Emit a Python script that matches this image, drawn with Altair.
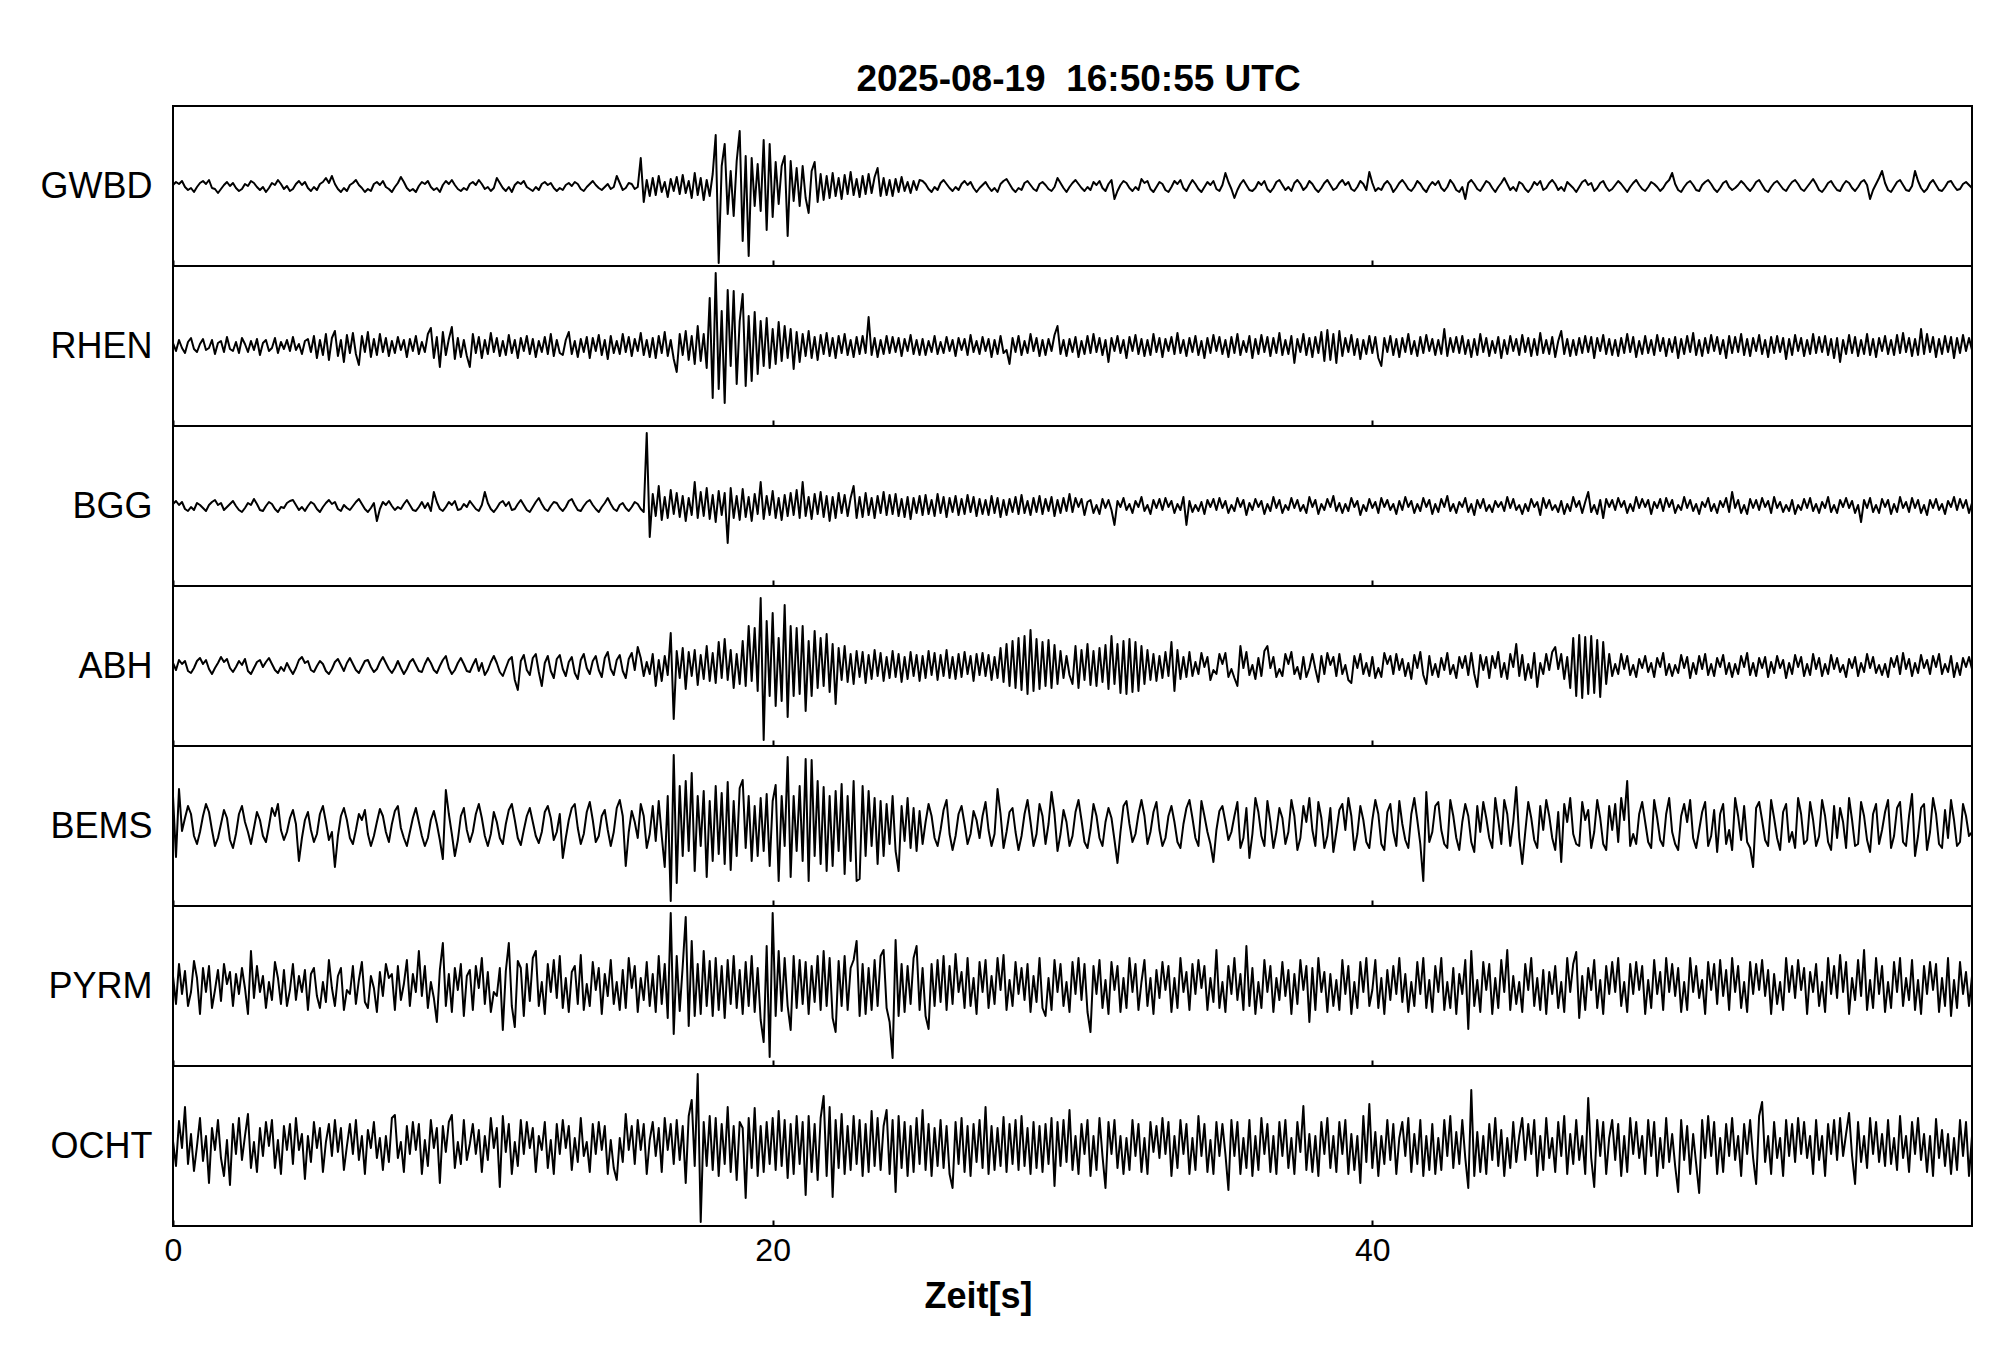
import altair as alt
import pandas as pd

STATIONS = ["GWBD", "RHEN", "BGG", "ABH", "BEMS", "PYRM", "OCHT"]
DURATION = 60.0
X_TICKS = [0, 20, 40]
TITLE = "2025-08-19\u00a0 16:50:55 UTC"
X_TITLE = "Zeit[s]"

# amplitudes in pixels of a 160 px high panel (±80), one row = 1 s at 0.1 s steps
GWBD = [
    1,4,2,5,-1,-4,-2,-6,-1,3,
    5,2,6,-2,-3,-7,-3,1,4,0,
    3,-2,-5,-3,2,0,5,3,-1,-4,
    -1,-6,-2,3,1,6,2,-3,0,-5,
    -3,2,5,1,4,-2,-5,-1,-4,2,
    4,8,3,10,2,-3,-6,-2,-5,1,
    3,6,1,-2,-6,-3,-5,2,4,1,
    5,-1,-3,-6,-1,3,9,4,-2,-5,
    -3,-6,0,4,2,5,-1,-4,-2,-6,
    1,5,2,6,1,-3,-5,-2,-4,2,
    4,1,6,2,-3,-1,-5,-2,8,3,
    -2,-5,-1,-6,1,4,2,5,-1,-3,
    -5,-1,-4,2,4,1,3,-2,-5,-2,
    -4,1,3,0,4,2,-3,-5,-1,2,
    5,1,-2,-4,-1,2,-3,-1,10,3,
    -4,-2,3,2,-3,-1,28,-16,6,-10,
    8,-9,10,-6,4,-11,7,-5,9,-8,
    11,-7,5,-12,13,-9,8,-14,6,-10,
    12,51,-77,20,42,-28,15,-30,25,55,
    -55,30,-70,28,-20,22,-25,46,-44,42,
    -31,24,-18,20,30,-50,25,-15,18,-20,
    20,-12,-27,15,24,-16,12,-14,10,-12,
    13,-10,8,-13,11,-8,14,-9,7,-11,
    10,-8,12,-7,9,18,-10,8,-9,6,
    -10,7,-6,9,-5,4,-7,5,-4,6,
    5,2,-3,-6,-1,-4,3,6,2,-2,
    -5,-1,-4,2,5,1,4,-2,-6,-2,
    1,4,-1,-5,-2,-6,2,5,7,2,
    -3,-6,-2,-4,3,5,1,-3,-5,2,
    4,1,-3,-5,-1,8,3,-2,-6,-1,
    3,6,2,-2,-5,-1,-4,4,1,5,
    -2,-5,2,6,-13,-5,1,5,3,-2,
    -5,-1,-4,7,3,5,-3,-6,-1,4,
    2,-4,-6,-1,5,2,6,-2,-5,1,
    6,2,-3,-6,-1,4,1,5,-3,-5,
    1,13,4,-3,-12,-4,2,6,1,-4,
    -5,-2,4,1,5,-3,-6,-2,4,6,
    1,-4,-1,-5,3,6,2,-4,-1,5,
    2,-3,-6,-2,3,6,1,-4,-2,3,
    6,1,4,-3,-5,-1,5,2,-4,14,
    3,-5,-2,-4,2,5,1,-6,-2,3,
    6,2,-3,-5,-1,5,2,-3,-6,0,
    4,1,5,-2,-5,-1,6,2,-4,-6,
    -1,-13,3,6,2,-3,-5,0,5,3,
    -2,-6,-1,3,8,2,-4,-1,-5,4,
    2,-3,-6,-2,4,1,5,-4,-2,3,
    6,2,-4,-1,-5,4,1,-2,-6,-1,
    4,6,1,3,-5,-2,3,5,-1,-5,
    -3,1,5,2,-2,-6,-1,3,6,1,
    -3,-5,-1,4,2,-1,-5,-2,3,6,
    13,2,-4,-6,-1,3,5,1,-4,-5,
    1,4,6,2,-3,-6,-2,3,5,-1,
    -4,-2,1,5,2,-2,-5,-1,4,6,
    1,-4,-6,-1,3,5,1,-3,-5,0,
    4,6,2,-3,-5,-1,3,7,2,-4,
    -6,-2,3,5,0,-4,-5,1,5,3,
    -2,-5,-1,4,6,1,-13,-4,2,8,
    15,3,-4,-6,-1,4,6,1,-4,-5,
    0,15,5,-2,-6,-3,3,6,1,-4,
    -5,-1,4,5,0,-4,-3,2,4,1,
    -2,
]

RHEN = [
    3,-5,6,-2,-7,4,8,-3,-6,2,
    7,-4,-2,6,-8,3,5,-6,9,-3,
    -5,4,-7,8,2,-6,5,-4,7,-9,
    3,6,-5,-2,8,-7,4,-3,6,-5,
    9,-4,2,-8,5,7,-6,10,-12,6,
    -9,12,-14,8,15,-10,6,-16,11,-7,
    13,-8,-19,10,-6,14,-11,7,-9,12,
    -6,8,-10,5,-7,9,-4,6,-11,7,
    -5,10,-8,4,-6,12,18,-12,9,-21,
    14,-9,7,19,-13,8,-11,6,-10,-21,
    12,-7,9,-12,6,-8,13,-6,8,-10,
    5,-9,11,-7,6,-12,8,-5,10,-8,
    7,-11,5,-6,9,-8,12,-10,6,-7,
    -9,6,14,-8,5,-11,7,-6,9,-12,
    8,-5,11,-9,6,-13,10,-7,5,-8,
    12,-6,9,-10,7,-5,13,-9,6,-11,
    8,-12,10,-7,14,-10,6,-13,-26,12,
    -9,15,-14,10,-18,20,-15,12,-22,48,
    -52,73,-43,35,-57,56,-20,55,-38,25,
    52,-40,30,-35,34,-28,25,-20,28,-22,
    17,-18,24,-15,20,-12,17,-23,14,-16,
    12,-10,15,-12,9,-14,11,-8,13,-10,
    8,-12,10,-7,12,-9,6,-11,9,-8,
    10,-7,29,-9,8,-11,6,-8,10,-7,
    9,-6,8,-10,7,-5,11,-8,6,-9,
    7,-9,5,-6,10,-8,4,-7,9,-5,
    6,-10,8,-4,7,-9,11,-6,5,-8,
    9,-5,7,-11,6,-8,10,-7,-4,-18,
    8,-6,10,-9,5,-7,12,-5,8,-10,
    6,-9,7,-5,11,20,-8,6,-10,7,
    -6,9,-11,5,-8,10,-7,12,-6,8,
    -9,6,-16,8,-5,10,-7,6,-12,9,
    -5,11,-8,7,-10,6,-9,12,-6,8,
    -11,7,-5,9,-8,13,-7,6,-10,8,
    -6,10,-9,5,-12,8,-7,11,-5,9,
    -8,6,-11,9,-7,12,-9,5,-6,10,
    -12,7,-8,11,-6,9,-10,8,-7,13,
    -9,6,-8,10,-17,7,-6,12,-9,8,
    -11,9,-7,14,-15,16,-14,12,-17,15,
    -10,8,-6,11,-9,7,-13,6,-8,10,
    -7,9,-12,-20,8,-6,10,-9,7,-11,
    8,-6,12,-8,5,-10,9,-7,11,-5,
    7,-9,6,-8,17,-10,8,-6,9,-7,
    10,-8,6,-11,7,-9,12,-6,8,-10,
    5,-7,9,-12,6,-8,10,-5,7,-9,
    11,-6,8,-10,7,-9,13,-7,6,-8,
    9,-11,5,15,-8,7,-10,6,-9,8,
    -7,10,-6,9,-12,8,-5,11,-8,7,
    -9,6,-10,8,-7,12,-6,9,-11,5,
    -8,10,-7,6,-9,11,-5,8,-10,7,
    -6,9,-12,7,-8,10,-6,13,-9,6,
    -10,8,-7,11,-5,9,-8,6,-12,10,
    -7,9,-6,12,-9,7,-10,8,-5,11,
    -8,6,-11,9,-7,10,-6,8,-13,7,
    -9,11,-5,8,-10,6,-8,12,-7,9,
    -6,10,-9,7,-12,8,-16,6,-8,11,
    -7,9,-10,6,-8,12,-9,7,-11,8,
    -5,10,-8,6,-9,11,-7,13,-6,8,
    -10,7,-9,17,-8,12,-6,9,-11,7,
    -8,10,-6,9,-12,8,-7,11,-5,8,
    -4,
]

BGG = [
    2,5,1,4,-3,-5,-1,-4,3,1,
    -2,-5,1,4,6,1,3,-4,-1,2,
    5,0,-4,-6,-2,3,1,7,2,-4,
    -5,0,4,2,-3,-6,-1,-2,3,5,
    6,1,-4,-1,-5,0,4,2,-3,-6,
    -1,3,6,2,4,-3,-5,1,-2,-4,
    0,4,7,2,-3,-6,-2,3,-15,-3,
    4,1,5,0,-4,-1,-3,2,6,1,
    -4,-5,-1,4,-2,3,-5,14,4,-3,
    -5,-1,4,1,5,-4,-3,2,-1,5,
    1,-3,-5,1,14,3,-3,-6,-2,3,
    5,0,4,-4,-3,2,6,1,-4,-6,
    -1,4,8,2,-3,-5,0,4,3,-2,
    -5,-1,5,7,1,-4,-5,0,4,6,
    1,-3,-6,-1,3,8,2,-3,-5,1,
    3,-2,-5,-1,4,2,-3,-6,73,-31,
    12,-10,20,-14,9,-12,16,-8,13,-11,
    10,-15,8,-9,24,-12,14,-10,18,-13,
    11,-16,15,-9,13,-37,18,-12,10,-14,
    17,-11,9,-15,12,-8,24,-13,10,-9,
    15,-12,8,-14,11,-10,13,-9,16,-12,
    24,-10,9,-13,12,-8,14,-11,10,-15,
    9,-12,13,-7,11,-10,8,20,-12,9,
    -11,13,-9,8,-12,10,-7,14,-9,11,
    -8,12,-10,7,-11,9,-13,8,-7,10,
    -9,11,-8,6,-10,12,-7,9,-11,8,
    -6,10,-9,7,-8,11,-6,9,-10,7,
    -8,6,-9,10,-7,8,-11,6,-9,7,
    -6,9,-8,11,-7,5,-9,8,-6,10,
    -8,7,-5,9,-10,6,-7,8,-5,12,
    -6,8,-1,7,-9,4,6,-7,1,-8,
    7,-2,6,-4,-19,5,-1,8,-4,2,
    -7,5,-1,9,-5,1,-8,6,-2,7,
    -4,8,-1,5,-7,2,-4,9,-19,5,
    -6,1,-5,4,-8,6,-1,7,-4,8,
    -2,5,-7,1,-5,8,-1,6,-9,3,
    -4,7,-1,5,-8,2,-5,9,-2,6,
    -7,1,-4,8,-2,6,-5,1,-7,9,
    -1,6,-8,2,-4,7,-1,10,-5,3,
    -7,2,-5,8,-1,5,-9,1,-5,7,
    -2,4,-7,8,-1,6,-4,2,-8,5,
    -4,9,-1,5,-7,2,-5,8,-1,6,
    -8,2,-6,7,-1,10,-5,2,-7,4,
    -1,8,-6,2,-9,6,-2,7,-5,1,
    -6,5,-1,4,-5,9,-2,7,-4,1,
    -8,2,-5,7,-1,4,-9,8,-2,6,
    -4,1,-6,5,-8,2,-5,9,-1,5,
    -7,4,14,-6,1,-8,6,-12,7,-1,
    6,-4,8,-1,5,-7,2,-5,9,-2,
    7,-1,6,-8,4,-2,7,-5,8,-1,
    6,-7,1,-4,9,-2,6,-5,2,-8,
    4,-1,8,-5,2,-7,5,-1,8,-6,
    14,-2,6,-7,1,-8,7,-2,6,-4,
    8,-1,5,-7,9,-2,4,-6,1,-5,
    6,-8,1,-4,7,-2,8,-5,2,-7,
    4,-2,9,-6,1,-7,6,-1,8,-2,
    5,-7,1,-16,6,-2,8,-6,1,-7,
    7,-1,6,-8,2,-6,9,-2,4,-6,
    8,-2,6,-7,1,-9,6,-2,7,-4,
    2,-8,5,-1,9,-4,7,-2,6,-7,
    3,
]

ABH = [
    3,-4,6,2,5,-5,-7,-2,5,8,
    2,6,-3,-8,-2,3,9,4,7,-2,
    -6,-1,5,1,7,-5,-8,-2,4,6,
    -1,4,8,2,-4,-7,-1,-5,3,-3,
    -8,-2,6,9,3,5,-4,-6,0,5,
    2,-5,-8,-3,4,7,1,-5,3,8,
    2,-4,-7,-1,5,6,-1,-6,-3,4,
    9,3,-3,-7,-2,5,-2,-8,-3,4,
    7,1,-5,-6,2,8,3,-4,-7,0,
    6,10,-2,-8,-4,3,8,2,-5,-6,
    1,7,-5,3,-9,-4,4,10,3,-6,
    -10,-2,6,9,-14,-24,5,11,-4,-9,
    8,12,-6,-20,3,10,-5,-12,7,11,
    -3,-10,4,9,-7,-13,6,12,-2,-8,
    5,10,-4,-11,8,14,-3,-9,6,11,
    -5,-12,7,13,-4,19,8,-10,4,-8,
    12,-20,6,-15,10,-9,33,-53,15,-12,
    18,-23,14,-10,16,-19,11,-13,20,-15,
    13,-17,24,-12,27,-14,16,-22,12,-18,
    25,-20,40,-15,38,-25,68,-74,45,-30,
    53,-40,28,-35,61,-51,40,-30,38,-28,
    40,-45,25,-30,35,-22,28,-20,32,-26,
    22,-38,18,-14,20,-16,12,-18,15,-11,
    14,-17,11,-13,16,-10,13,-15,9,-12,
    15,-11,12,-16,9,-13,14,-10,11,-15,
    10,-12,15,-9,13,-14,11,-10,16,-12,
    9,-13,12,-11,14,-8,10,-15,12,-9,
    13,-10,11,-14,9,-12,18,-16,22,-20,
    25,-22,28,-24,30,-28,36,-25,27,-23,
    24,-20,26,-22,21,-18,15,-12,10,-9,
    -18,20,-22,16,-14,22,-19,15,-20,18,
    -16,21,-23,30,-18,22,-27,25,-28,27,
    -26,24,-25,20,-18,16,-14,12,-15,10,
    -12,14,-10,24,-25,16,-13,9,-11,14,
    -10,4,-8,13,-1,9,-14,-4,-8,12,
    2,13,-11,-3,-12,-20,20,-2,14,-9,
    1,-13,8,-10,15,20,-2,9,-11,-3,
    -10,12,2,14,-8,-1,-13,9,-11,-2,
    12,-3,-16,10,-8,13,1,9,-10,12,
    -8,1,-14,-17,10,-2,12,-8,3,-10,
    9,-12,-2,-11,13,2,10,-8,12,-4,
    7,-10,3,-13,11,-2,14,-9,-18,10,
    -9,2,-11,8,-4,13,-8,1,-12,9,
    -2,10,-9,13,-8,-21,11,-4,9,-12,
    10,-2,14,-11,3,-13,12,-1,22,-10,
    11,-14,2,-12,13,-21,3,-8,12,-4,
    14,19,-3,12,-13,9,-22,28,-30,31,
    -32,29,-28,30,-27,26,-31,24,-18,12,
    -10,2,-8,12,-3,10,-9,1,-11,7,
    -2,10,-6,3,-11,8,-1,13,-9,2,
    -10,1,-7,11,-2,9,-12,3,-8,10,
    -3,12,-9,2,-10,8,-1,11,-8,3,
    -11,2,-8,10,-1,13,-9,3,-10,8,
    -2,9,-11,4,-7,10,-2,6,-12,3,
    -8,11,-1,9,-10,2,-9,12,-3,8,
    -10,2,-8,11,-3,8,-6,1,-11,7,
    -2,9,-10,3,-6,12,-2,9,-7,1,
    -9,2,-11,8,-1,10,-8,13,-3,7,
    -10,3,-7,11,-2,6,-8,10,-1,12,
    -8,2,-6,10,-11,3,-9,8,-1,9,
    -3,
]

BEMS = [
    30,-31,37,-5,8,20,12,-10,-18,-6,
    10,22,14,-4,-20,-12,2,16,8,-14,
    -22,-8,12,20,4,-6,-18,-2,14,6,
    -10,-16,0,18,10,22,-4,-14,-6,8,
    16,2,-35,-12,6,14,-4,-16,-8,12,
    20,4,-14,-6,-41,-10,10,18,6,-12,
    -18,-4,12,6,16,-8,-20,-10,4,17,
    10,-6,-16,2,15,20,-2,-12,-20,-6,
    8,18,4,-10,-20,-12,6,15,2,-14,
    -33,36,12,-8,-30,-14,10,18,-4,-16,
    -6,12,22,8,-10,-20,-8,14,4,-12,
    -18,2,16,22,6,-12,-19,-4,10,18,
    4,-10,-17,-6,14,20,8,-14,-6,12,
    -32,-12,6,18,22,-2,-18,-8,14,24,
    6,-16,-10,10,16,-4,-20,-6,18,26,
    10,-40,-6,15,4,-12,22,10,-22,-8,
    20,-15,25,-10,-41,30,-75,71,-57,40,
    -30,45,-25,53,-45,30,-20,35,-51,25,
    -35,40,-28,33,-38,44,-44,25,-30,38,
    46,-22,30,-35,20,-30,28,-25,32,-40,
    25,41,-55,30,-20,69,-51,30,-25,40,
    -35,67,-55,66,-30,45,-38,39,-45,30,
    -40,35,-25,42,-48,30,-35,45,-55,-53,
    40,-30,35,-20,28,-38,25,-30,22,-18,
    30,-25,-45,20,-15,28,-22,18,-25,15,
    -18,4,22,10,-12,-20,-4,16,26,-8,
    -24,-10,12,20,2,-18,-8,15,6,-12,
    10,24,-4,-20,-8,37,12,-22,-6,14,
    18,-6,-24,-10,12,26,4,-20,-8,22,
    10,-18,2,34,12,-25,-8,16,4,-20,
    -10,14,26,6,-16,-22,-4,22,10,-12,
    -20,4,18,8,-14,-37,-6,20,25,2,
    -16,-8,12,26,10,-18,-6,14,24,-4,
    -20,-12,10,20,4,-16,-22,2,18,26,
    8,-12,-20,25,10,-6,-18,-36,-4,15,
    20,4,-14,-6,10,24,-22,-12,18,-32,
    -8,28,14,-10,-20,25,4,-22,-6,18,
    8,-18,-6,26,10,-24,-12,20,4,28,
    -4,-20,24,8,-22,-10,18,-26,-6,16,
    22,-4,28,10,-24,-8,20,6,-16,-22,
    6,26,12,-18,-24,14,22,-6,-20,25,
    2,-14,-22,12,28,6,-18,-55,34,-16,
    -6,20,24,-4,-18,-22,26,10,-12,-24,
    4,22,10,-16,-26,20,-6,24,8,-12,
    -22,28,6,-18,26,12,-20,4,39,-12,
    -38,-6,24,8,-14,-22,20,-4,26,10,
    -12,-24,14,-36,22,4,28,-8,-18,-20,
    24,6,16,-22,-6,26,8,-18,-24,20,
    -4,22,-16,28,6,45,-20,-8,-18,12,
    24,4,-16,-22,26,8,-14,-20,12,28,
    -6,-18,-24,10,22,4,26,-12,-22,-4,
    14,24,-20,-10,16,-26,12,22,-18,-4,
    -24,28,10,-14,20,-16,-22,-41,18,24,
    6,-14,-20,26,8,-12,-24,14,22,-16,
    -6,-22,28,12,-18,-14,24,6,-20,-10,
    26,10,-16,-24,20,-12,18,4,-22,28,
    6,-20,-18,24,10,-14,-26,12,22,-18,
    -4,14,26,-22,-10,18,24,-16,-20,10,
    32,-30,-10,18,22,-24,-6,28,12,-18,
    -22,16,-12,26,6,-20,-16,22,10,-10,
    -6,
]

PYRM = [
    10,-18,22,-8,15,-20,-6,25,8,-28,
    18,-6,20,-22,-4,16,-15,22,2,14,
    -20,12,-8,18,-2,-28,35,-12,20,-6,
    10,-22,4,-14,24,8,-18,16,-20,-4,
    22,-14,10,-6,16,-24,12,18,-10,-22,
    4,-16,26,-2,-20,10,18,-24,-4,-8,
    20,-18,6,24,-16,-22,10,-2,-26,14,
    -10,22,8,12,-24,20,-14,2,26,-20,
    12,-6,35,-10,20,-22,4,-12,-36,16,
    43,-20,12,-26,18,-4,22,-30,10,16,
    -24,20,-2,28,-18,14,-26,-6,-10,18,
    -44,15,43,-20,-41,25,18,-30,22,-15,
    28,35,-20,4,-28,22,-6,26,-12,30,
    -22,8,-26,14,20,-18,31,-24,2,-20,
    24,-4,18,-28,12,-10,26,-18,4,-24,
    16,-22,28,-2,20,-26,8,-14,24,-20,
    12,-26,30,-18,22,-32,73,-48,30,-25,
    20,69,-40,45,-30,22,-28,35,-20,25,
    -30,28,-24,20,-32,26,-18,30,-22,16,
    -28,24,-20,30,-26,18,-34,-56,40,-71,
    73,-30,35,-25,28,-20,-44,30,-22,26,
    -18,24,-28,20,-16,30,-24,35,-20,28,
    -32,-46,25,-20,30,-24,18,26,45,-30,
    22,-28,18,-24,26,-20,30,36,-22,-36,
    -72,46,-30,22,-26,20,-18,28,40,-24,
    18,-30,-43,22,-20,26,-16,30,-24,20,
    -18,32,-6,14,-22,28,-20,8,-28,24,
    -6,26,-22,10,-18,28,-4,31,-24,6,
    -20,24,-8,18,-14,22,-26,10,-16,28,
    -22,-30,8,-24,26,-6,22,-20,4,-26,
    24,-8,28,-14,22,-26,-46,20,-8,26,
    -22,6,-28,24,-4,20,-26,8,-22,28,
    -6,22,-24,4,26,-20,8,-28,16,-12,
    24,-4,20,-26,8,-22,28,-6,14,-24,
    22,-8,26,-2,20,-24,8,-16,36,-22,
    4,-26,20,-8,28,-14,12,-24,40,-20,
    18,-28,4,-22,26,-6,20,-26,8,-14,
    24,-10,16,-28,12,-18,26,-4,20,-36,
    18,-24,28,-6,14,-26,12,-20,6,-24,
    26,-8,20,-28,4,-22,24,-6,28,-20,
    -4,26,-22,8,-28,16,-14,20,-8,28,
    -16,12,-26,4,-20,24,-8,28,-22,6,
    -26,20,-6,28,-24,4,-22,18,-28,12,
    -8,26,-43,35,-20,6,-26,24,-4,22,
    -28,8,-22,26,-6,36,-24,10,-18,4,
    -26,22,-4,28,-20,8,-24,16,-28,14,
    -8,20,-22,4,-26,28,-6,22,34,-32,
    10,-24,18,-4,26,-22,6,-28,20,-8,
    24,-6,28,-20,4,-26,22,-8,24,-4,
    20,-28,6,-22,26,-8,14,-24,28,-6,
    22,-10,18,-26,4,-24,28,-6,20,-12,
    6,-28,24,-4,22,-18,26,-10,16,-24,
    28,-6,20,-22,4,-26,24,-8,22,-4,
    26,-10,16,-28,12,-18,4,-24,28,-6,
    20,-12,26,-4,18,-28,14,-6,22,-20,
    4,-26,28,-8,20,-12,31,-6,24,-28,
    8,-14,26,-10,36,-24,6,-22,28,-8,
    20,-26,4,-22,24,-6,28,-20,8,-14,
    26,-24,6,-28,20,-8,24,-4,22,-26,
    8,-20,28,-30,6,-22,24,-8,14,-20,
    10,
]

OCHT = [
    5,-20,25,-2,39,-18,12,-25,0,28,
    -15,10,-37,18,-4,26,-12,-30,6,-39,
    22,-8,28,-14,10,32,-22,4,-26,18,
    -10,24,0,26,-22,6,-28,20,-4,22,
    -18,28,-4,12,-33,10,-16,24,-2,18,
    -26,4,22,-10,26,-6,18,-24,0,22,
    -8,26,-14,10,-28,16,-2,24,-12,8,
    -24,10,-16,28,31,-12,4,-26,20,-8,
    24,-4,22,-28,6,-20,26,-2,18,-37,
    20,-6,24,31,-22,4,-18,26,-14,2,
    22,-8,16,-26,10,-14,28,-2,18,-41,
    30,-6,22,-28,4,-20,26,-8,24,-2,
    18,-26,10,-4,24,-22,6,-28,22,-8,
    26,-2,20,-24,8,-16,28,-10,4,-26,
    22,-8,24,-4,20,-28,6,-22,-34,8,
    -16,32,-4,20,-18,26,-4,22,-28,6,
    24,-10,18,-26,28,-4,22,-18,26,-14,
    20,-37,30,46,-20,72,-76,24,-20,30,
    -24,28,-30,22,-18,39,-26,20,-34,24,
    18,-52,28,-22,38,-30,20,-26,24,-18,
    28,-24,35,-20,26,-32,22,-28,30,-18,
    24,-49,30,-26,22,-34,28,50,-30,39,
    -51,26,-22,32,-28,20,-24,30,-18,26,
    -30,22,-26,35,-20,28,-24,20,36,-28,
    26,-46,30,-22,24,-30,20,-26,28,-18,
    36,-24,22,-30,18,-20,26,-22,20,-28,
    -42,24,-18,28,-26,20,-30,22,-16,26,
    -22,39,-28,20,-24,18,-20,29,-26,22,
    -18,26,-24,30,-20,18,-28,24,-22,20,
    -26,22,-18,28,-40,24,-20,26,-16,36,
    -24,10,-28,22,-8,26,-30,10,-24,28,
    -10,-42,24,-8,26,-22,10,-28,8,-24,
    26,-10,22,-26,8,-28,24,-6,20,-12,
    28,-8,24,-30,10,-22,26,-8,22,-28,
    8,-24,30,-10,22,-26,6,-28,24,-10,
    22,-8,-44,26,-10,24,-28,8,-22,26,
    -30,10,-24,28,-8,22,-26,10,-28,24,
    -10,26,-22,8,-28,24,-6,40,-24,12,
    -26,10,-30,24,-8,28,-22,10,-26,24,
    -8,26,-28,12,-24,10,-37,30,-16,42,
    -22,14,-30,10,-18,26,-14,22,-28,8,
    24,-10,28,-26,12,-18,26,-30,10,-24,
    22,-28,8,-24,26,-10,30,-22,14,-18,
    26,-12,-42,56,-30,14,-26,10,-28,22,
    -14,28,-20,16,-30,8,-22,24,-16,10,
    28,-14,22,-8,26,-30,10,-24,28,-12,
    8,-26,24,-10,30,-28,12,-18,26,-14,
    10,-28,48,-12,-41,26,-10,24,-28,8,
    26,-14,22,-30,10,-26,28,-8,24,-12,
    10,-28,26,-10,24,-30,8,-22,28,-16,
    12,-20,-46,26,-14,20,-28,12,-18,-47,
    26,-12,30,-10,24,-28,8,-26,22,-10,
    28,-14,10,-30,22,-8,26,-12,-38,30,
    44,-16,10,-28,24,-12,8,-30,26,-10,
    22,-16,28,-8,24,-12,10,-28,26,-14,
    10,-30,22,-8,26,-14,28,-10,12,33,
    -10,-38,24,-16,10,-22,28,-8,24,-16,
    12,-20,26,-18,8,-24,30,-12,10,-26,
    24,-8,28,-14,12,-26,10,-30,27,-12,
    16,-20,12,-28,8,-24,26,-10,24,-30,
    10,
]

TRACES = {"GWBD": GWBD, "RHEN": RHEN, "BGG": BGG, "ABH": ABH,
          "BEMS": BEMS, "PYRM": PYRM, "OCHT": OCHT}

FONT = "Liberation Sans"
PANEL_W = 1799
PANEL_H = 160

panels = []
for i, name in enumerate(STATIONS):
    vals = TRACES[name]
    n = len(vals)
    df = pd.DataFrame({"t": [k * DURATION / (n - 1) for k in range(n)], "a": vals})
    last = i == len(STATIONS) - 1
    ax_kw = dict(values=X_TICKS, tickSize=6, offset=-6, domain=False, grid=False,
                 tickColor="black", tickWidth=2, labels=last)
    if last:
        ax_kw.update(title=X_TITLE, labelFontSize=32, labelFont=FONT, labelColor="black",
                     labelPadding=9, labelFlush=False, titleFont=FONT, titleFontSize=36,
                     titleFontWeight="bold", titleColor="black", titleX=805, titleY=76,
                     titleBaseline="middle", titleAlign="center")
    else:
        ax_kw.update(title=None)
    ch = alt.Chart(df).mark_line(color="black", strokeWidth=2.0, strokeJoin="round",
                                 clip=True).encode(
        x=alt.X("t:Q", scale=alt.Scale(domain=[0, DURATION], nice=False, zero=False),
                axis=alt.Axis(**ax_kw)),
        y=alt.Y("a:Q", scale=alt.Scale(domain=[-80, 80], nice=False),
                axis=alt.Axis(title=name, titleAngle=0, titleAlign="right",
                              titleBaseline="middle", titleX=-21, titleY=PANEL_H / 2,
                              titleFont=FONT, titleFontSize=36, titleFontWeight="normal",
                              titleColor="black", labels=False, ticks=False,
                              domain=False, grid=False)),
    ).properties(width=PANEL_W, height=PANEL_H)
    if i == 0:
        ch = ch.properties(title=alt.TitleParams(TITLE, font=FONT, fontSize=37,
                                                 fontWeight="bold", color="black",
                                                 anchor="middle", frame="group",
                                                 baseline="alphabetic", offset=-22, dx=6))
    panels.append(ch)

chart = alt.vconcat(*panels, spacing=0, bounds="flush").properties(
    padding={"left": 31, "top": 52, "right": 20, "bottom": 60}
).configure(background="white").configure_view(stroke="black", strokeWidth=2)

chart.save("out.html", embed_options={"renderer": "svg", "actions": False})
